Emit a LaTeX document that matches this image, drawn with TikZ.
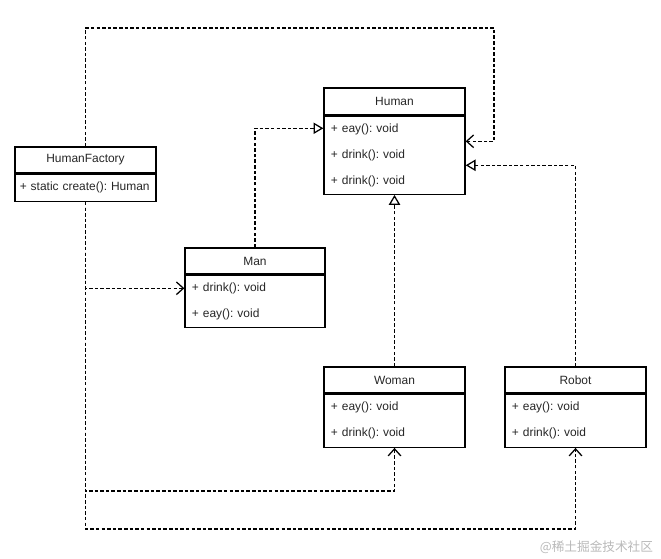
\documentclass[tikz,border=0pt]{standalone}
\usepackage{fontspec}
\setmainfont{Liberation Sans}
\newfontfamily\cjkfont{Noto Sans CJK SC}
\usetikzlibrary{arrows.meta,calc,positioning}
\frenchspacing

\begin{document}
\begin{tikzpicture}[x=0.025cm, y=-0.025cm,
        head/.style={draw, line width=0.9pt, minimum width=3.525cm, minimum height=0.65cm,
            inner sep=0pt, text=black!85, font=\fontsize{8.5}{10}\selectfont},
        body/.style={draw, line width=0.9pt, text width=3.175cm, inner xsep=0.175cm,
            inner ysep=0pt, align=left, text=black!85, font=\fontsize{8.5}{18.4}\selectfont},
        dep/.style={dash pattern=on 2.5pt off 1.5pt, line width=0.9pt,
            -{Straight Barb[length=5pt,width=9pt]}},
        impl/.style={dash pattern=on 2.5pt off 1.5pt, line width=0.9pt,
            -{Triangle[open,length=7pt,width=8pt]}}]
        \useasboundingbox (0,0) rectangle (661,558);

        % factory
        \node[head] (factT) at (85.5,160) {HumanFactory};
        \node[body, below=0pt of factT, minimum height=0.675cm, inner xsep=0.12cm,
            text width=3.285cm] (factB) {+ static create(): Human};

        % interface
        \node[head, minimum height=0.675cm] (humanT) at (394.5,101.5) {Human};
        \node[body, below=0pt of humanT, minimum height=1.95cm] (humanB)
            {+ eay(): void\\+ drink(): void\\+ drink(): void};

        % classes
        \node[head, minimum width=3.5cm] (manT) at (255,261) {Man};
        \node[body, below=0pt of manT, text width=3.15cm, minimum height=1.3cm] (manB)
            {+ drink(): void\\+ eay(): void};

        \node[head] (womanT) at (394.5,380) {Woman};
        \node[body, below=0pt of womanT, minimum height=1.325cm] (womanB)
            {+ eay(): void\\+ drink(): void};

        \node[head] (robotT) at (575.5,380) {Robot};
        \node[body, below=0pt of robotT, minimum height=1.325cm] (robotB)
            {+ eay(): void\\+ drink(): void};

        % dependencies
        \draw[dep] (factT.north) |- (494,28) |- ($(humanB.east)+(0,-14)$);
        \draw[dep] (factB.south) |- ($(manB.west)+(0,-13)$);
        \draw[dep] (factB.south) |- ($(womanB.south)+(0,43)$) -- (womanB.south);
        \draw[dep] (factB.south) |- ($(robotB.south)+(0,81)$) -- (robotB.south);

        % realizations
        \draw[impl] (manT.north) |- ($(humanB.west)+(0,-27)$);
        \draw[impl] (womanT.north) -- (humanB.south);
        \draw[impl] (robotT.north) |- ($(humanB.east)+(0,10)$);

        % watermark
        \node[anchor=east, text=gray!55, font=\cjkfont\fontsize{9}{10}\selectfont] (mark)
            at (658,547) {@稀土掘金技术社区};
    \end{tikzpicture}
\end{document}
